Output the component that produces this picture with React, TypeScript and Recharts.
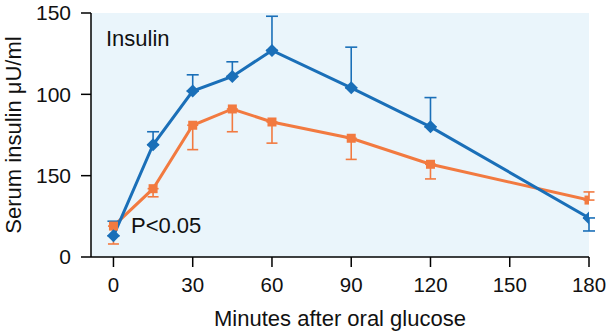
import React from "react";
import {
  LineChart,
  Line,
  XAxis,
  YAxis,
  CartesianGrid,
  ErrorBar,
} from "recharts";

// ─── Data ────────────────────────────────────────────────
const minutes = [0, 15, 30, 45, 60, 90, 120, 180];
const blueInsulin = [13, 69, 102, 111, 127, 104, 80, 24];
const blueErrDown = [0, 0, 0, 0, 0, 0, 0, 8];
const blueErrUp = [9, 8, 10, 9, 21, 25, 18, 0];
const orangeInsulin = [19, 42, 81, 91, 83, 73, 57, 35];
const orangeErrDown = [11, 5, 15, 14, 13, 13, 9, 0];
const orangeErrUp = [0, 0, 0, 0, 0, 0, 0, 5];

const xTicks = [0, 30, 60, 90, 120, 150, 180];
const yTicks = [0, 50, 100, 150];
const yTickLabels = ["0", "150", "100", "150"];

const chartData = minutes.map((m, i) => ({
  minute: m,
  blue: blueInsulin[i],
  blueErr: [blueErrDown[i], blueErrUp[i]],
  orange: orangeInsulin[i],
  orangeErr: [orangeErrDown[i], orangeErrUp[i]],
}));

const BLUE = "#1a6fb8";
const ORANGE = "#f27a40";
const FONT = "'Liberation Sans', Arial, sans-serif";

// ─── Markers ─────────────────────────────────────────────
function Diamond(props: any) {
  const { cx, cy } = props;
  if (cx == null || cy == null) return null;
  const r = 6.5;
  return (
    <polygon
      key={`d-${cx}`}
      points={`${cx},${cy - r} ${cx + r},${cy} ${cx},${cy + r} ${cx - r},${cy}`}
      fill={BLUE}
    />
  );
}

function Square(props: any) {
  const { cx, cy } = props;
  if (cx == null || cy == null) return null;
  const s = 9;
  return (
    <rect key={`s-${cx}`} x={cx - s / 2} y={cy - s / 2} width={s} height={s} fill={ORANGE} />
  );
}

// ─── Component ───────────────────────────────────────────
export default function App() {
  return (
    <div style={{ position: "absolute", left: 0, top: 0, width: 607, height: 332, background: "#fff", fontFamily: FONT }}>
      <LineChart
        width={607}
        height={332}
        data={chartData}
        margin={{ top: 13, right: 18, bottom: 0, left: 0 }}
      >
        <CartesianGrid fill="#eaf5fb" horizontal={false} vertical={false} />
        <XAxis
          dataKey="minute"
          type="number"
          domain={[-8.5, 180]}
          ticks={xTicks}
          allowDataOverflow
          height={75}
          tickSize={10}
          tickMargin={10}
          tick={{ fontSize: 20.5, fill: "#111", fontFamily: FONT }}
          axisLine={{ stroke: "#000", strokeWidth: 1.5 }}
          tickLine={{ stroke: "#000", strokeWidth: 1.5 }}
          label={{ value: "Minutes after oral glucose", position: "insideBottom", offset: 6, fontSize: 22, fill: "#111", fontFamily: FONT }}
        />
        <XAxis
          xAxisId="top"
          orientation="top"
          type="number"
          domain={[-8.5, 180]}
          height={0}
          tick={false}
          tickLine={false}
          axisLine={{ stroke: "#000", strokeWidth: 1.5 }}
        />
        <YAxis
          type="number"
          domain={[0, 150]}
          ticks={yTicks}
          width={91}
          tickSize={10}
          tickMargin={10}
          tickFormatter={(v: number) => yTickLabels[yTicks.indexOf(v)]}
          tick={{ fontSize: 21, fill: "#111", fontFamily: FONT }}
          axisLine={{ stroke: "#000", strokeWidth: 1.5 }}
          tickLine={{ stroke: "#000", strokeWidth: 1.5 }}
          label={{ value: "Serum insulin μU/ml", angle: -90, position: "insideLeft", offset: 13, fontSize: 22, fill: "#111", fontFamily: FONT, style: { textAnchor: "middle" } }}
        />
        <YAxis
          yAxisId="right"
          orientation="right"
          type="number"
          domain={[0, 150]}
          width={0}
          tick={false}
          tickLine={false}
          axisLine={{ stroke: "#000", strokeWidth: 1.5 }}
        />
        <Line
          dataKey="orange"
          stroke={ORANGE}
          strokeWidth={3}
          dot={Square}
          activeDot={false}
          isAnimationActive={false}
        >
          <ErrorBar dataKey="orangeErr" stroke={ORANGE} strokeWidth={1.6} width={5.5} />
        </Line>
        <Line
          dataKey="blue"
          stroke={BLUE}
          strokeWidth={3}
          dot={Diamond}
          activeDot={false}
          isAnimationActive={false}
        >
          <ErrorBar dataKey="blueErr" stroke={BLUE} strokeWidth={1.6} width={6} />
        </Line>
      </LineChart>
      <div style={{ position: "absolute", left: 106, top: 26, fontSize: 22, color: "#111" }}>Insulin</div>
      <div style={{ position: "absolute", left: 131, top: 213, fontSize: 22, color: "#111" }}>P&lt;0.05</div>
    </div>
  );
}
